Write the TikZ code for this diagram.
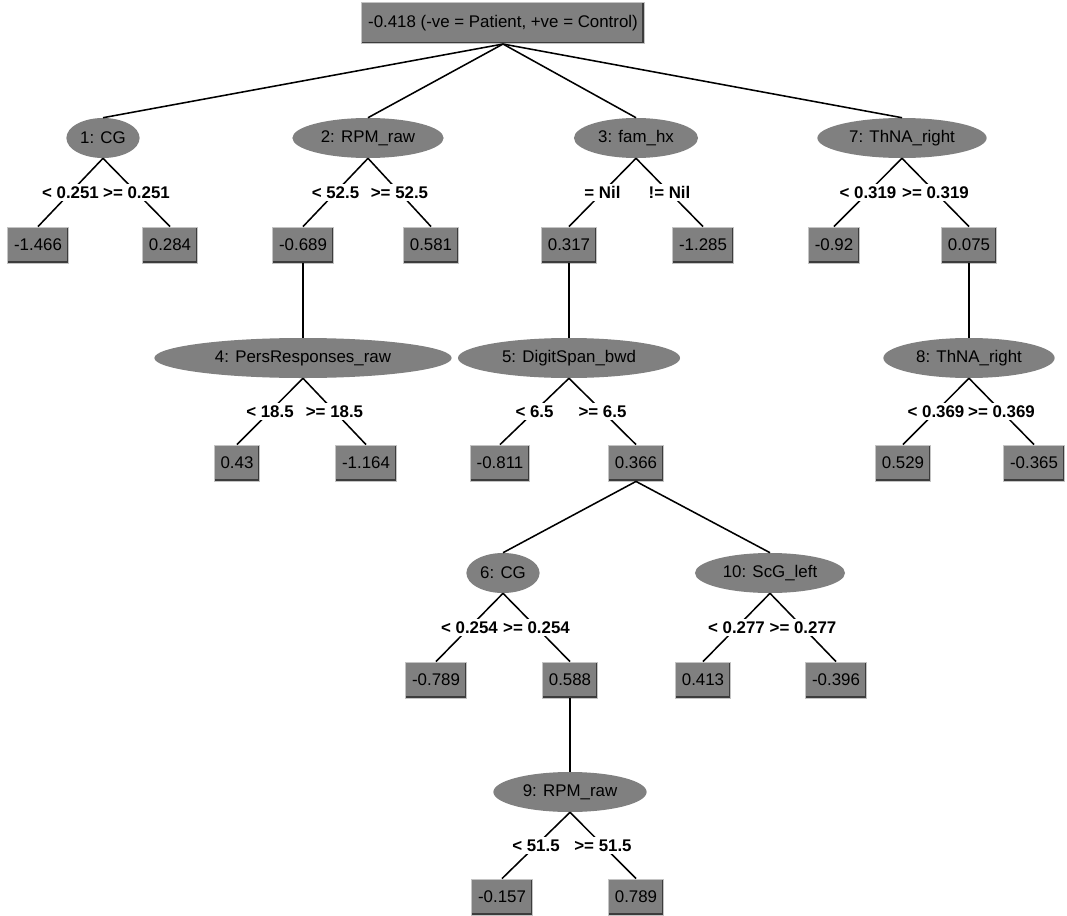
\documentclass[tikz,border=0pt]{standalone}
\usepackage{fontspec}
\setmainfont{Liberation Sans}
\usetikzlibrary{shapes.geometric}

\definecolor{nodegray}{HTML}{808080}
\definecolor{rimlite}{HTML}{C4C4C4}
\definecolor{rimdark}{HTML}{3C3C3C}

\begin{document}
\begin{tikzpicture}[x=0.025cm, y=-0.025cm,
  every node/.style={font=\fontsize{12}{14}\selectfont},
  pred/.style={rectangle, fill=nodegray, draw=rimlite, line width=0.6pt,
    inner xsep=4.5pt, minimum height=0.9cm,
    path picture={\draw[rimdark, line width=2.4pt]
      (path picture bounding box.south west) -- (path picture bounding box.south east)
      -- (path picture bounding box.north east);}},
  split/.style={ellipse, fill=nodegray, inner sep=0pt, minimum height=1cm},
  cond/.style={fill=white, inner sep=2pt, font=\fontsize{12}{14}\selectfont\bfseries},
  link/.style={line width=1.1pt}]

 \fill[white] (0,0) rectangle (1067,915);

 \node[pred, minimum width=7.03cm, minimum height=1.03cm] (root) at (503,23)
   {-0.418 (-ve = Patient, +ve = Control)};

 % first level splitters
 \node[split, minimum width=1.83cm] (s1) at (103,138) {1: CG};
 \node[split, minimum width=3.78cm] (s2) at (368,138) {2: RPM\_raw};
 \node[split, minimum width=3.10cm] (s3) at (636,138) {3: fam\_hx};
 \node[split, minimum width=4.23cm] (s7) at (902,138) {7: ThNA\_right};

 \node[pred] (p1a) at (38,245) {-1.466};
 \node[pred] (p1b) at (170,245) {0.284};
 \node[pred] (p2a) at (303,245) {-0.689};
 \node[pred] (p2b) at (431,245) {0.581};
 \node[pred] (p3a) at (569,245) {0.317};
 \node[pred] (p3b) at (703,245) {-1.285};
 \node[pred] (p7a) at (834,245) {-0.92};
 \node[pred] (p7b) at (969,245) {0.075};

 % second level
 \node[split, minimum width=7.43cm] (s4) at (303,358) {4: PersResponses\_raw};
 \node[split, minimum width=5.55cm] (s5) at (569,358) {5: DigitSpan\_bwd};
 \node[split, minimum width=4.28cm] (s8) at (969,358) {8: ThNA\_right};

 \node[pred] (p4a) at (237,463) {0.43};
 \node[pred] (p4b) at (366,463) {-1.164};
 \node[pred] (p5a) at (500,463) {-0.811};
 \node[pred] (p5b) at (636,463) {0.366};
 \node[pred] (p8a) at (903,463) {0.529};
 \node[pred] (p8b) at (1034,463) {-0.365};

 % third level
 \node[split, minimum width=1.83cm] (s6) at (503,573) {6: CG};
 \node[split, minimum width=3.75cm] (s10) at (770,573) {10: ScG\_left};

 \node[pred] (p6a) at (436,680) {-0.789};
 \node[pred] (p6b) at (570,680) {0.588};
 \node[pred] (p10a) at (703,680) {0.413};
 \node[pred] (p10b) at (836,680) {-0.396};

 % fourth level
 \node[split, minimum width=3.83cm] (s9) at (570,792) {9: RPM\_raw};

 \node[pred] (p9a) at (502,897) {-0.157};
 \node[pred] (p9b) at (636,897) {0.789};

 % prediction -> splitter
 \draw[link] (root.south) -- (s1.north);
 \draw[link] (root.south) -- (s2.north);
 \draw[link] (root.south) -- (s3.north);
 \draw[link] (root.south) -- (s7.north);
 \draw[link] (p2a.south) -- (s4.north);
 \draw[link] (p3a.south) -- (s5.north);
 \draw[link] (p7b.south) -- (s8.north);
 \draw[link] (p5b.south) -- (s6.north);
 \draw[link] (p5b.south) -- (s10.north);
 \draw[link] (p6b.south) -- (s9.north);

 % splitter -> prediction, with the test
 \draw[link] (s1.south) -- node[cond] {< 0.251} (p1a.north);
 \draw[link] (s1.south) -- node[cond] {>= 0.251} (p1b.north);
 \draw[link] (s2.south) -- node[cond] {< 52.5} (p2a.north);
 \draw[link] (s2.south) -- node[cond] {>= 52.5} (p2b.north);
 \draw[link] (s3.south) -- node[cond] {= Nil} (p3a.north);
 \draw[link] (s3.south) -- node[cond] {!= Nil} (p3b.north);
 \draw[link] (s7.south) -- node[cond] {< 0.319} (p7a.north);
 \draw[link] (s7.south) -- node[cond] {>= 0.319} (p7b.north);
 \draw[link] (s4.south) -- node[cond] {< 18.5} (p4a.north);
 \draw[link] (s4.south) -- node[cond] {>= 18.5} (p4b.north);
 \draw[link] (s5.south) -- node[cond] {< 6.5} (p5a.north);
 \draw[link] (s5.south) -- node[cond] {>= 6.5} (p5b.north);
 \draw[link] (s8.south) -- node[cond] {< 0.369} (p8a.north);
 \draw[link] (s8.south) -- node[cond] {>= 0.369} (p8b.north);
 \draw[link] (s6.south) -- node[cond] {< 0.254} (p6a.north);
 \draw[link] (s6.south) -- node[cond] {>= 0.254} (p6b.north);
 \draw[link] (s10.south) -- node[cond] {< 0.277} (p10a.north);
 \draw[link] (s10.south) -- node[cond] {>= 0.277} (p10b.north);
 \draw[link] (s9.south) -- node[cond] {< 51.5} (p9a.north);
 \draw[link] (s9.south) -- node[cond] {>= 51.5} (p9b.north);
\end{tikzpicture}
\end{document}
